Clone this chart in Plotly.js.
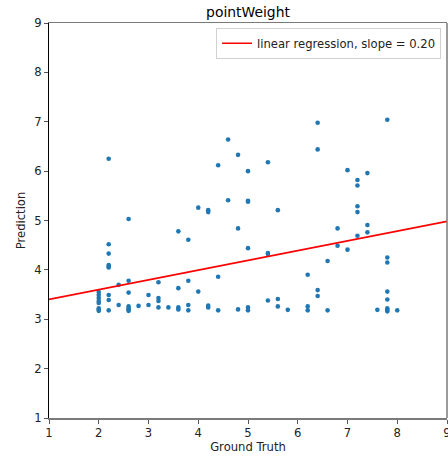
<!DOCTYPE html>
<html>
<head>
<meta charset="utf-8">
<script src="https://cdn.plot.ly/plotly-3.0.1.min.js"></script>
<style>html,body{margin:0;padding:0;background:#fff;}#chart{width:448px;height:457px;}</style>
</head>
<body>
<div id="chart"></div>
<script>
// Ground truth values (x) and predictions (y)
const groundTruth = [
  2,2,2,2,2,2,2,2,
  2.2,2.2,2.2,2.2,2.2,2.2,2.2,2.2,2.2,
  2.4,2.4,
  2.6,2.6,2.6,2.6,2.6,2.6,2.6,
  2.8,
  3.0,3.0,
  3.2,3.2,3.2,3.2,
  3.4,
  3.6,3.6,3.6,3.6,
  3.8,3.8,3.8,3.8,
  4.0,4.0,
  4.2,4.2,4.2,4.2,
  4.4,4.4,4.4,
  4.6,4.6,
  4.8,4.8,4.8,
  5.0,5.0,5.0,5.0,5.0,5.0,
  5.4,5.4,5.4,5.4,
  5.6,5.6,5.6,
  5.8,
  6.2,6.2,6.2,
  6.4,6.4,6.4,6.4,
  6.6,6.6,
  6.8,6.8,
  7.0,7.0,
  7.2,7.2,7.2,7.2,7.2,
  7.4,7.4,7.4,
  7.6,
  7.8,7.8,7.8,7.8,7.8,7.8,7.8,7.8,
  8.0
];
const prediction = [
  3.55,3.49,3.43,3.37,3.33,3.22,3.19,3.17,
  6.25,4.52,4.33,4.10,4.07,4.05,3.49,3.39,3.18,
  3.70,3.29,
  5.03,3.78,3.54,3.26,3.22,3.19,3.17,
  3.27,
  3.49,3.29,
  3.75,3.43,3.37,3.24,
  3.24,
  4.78,3.63,3.24,3.20,
  4.61,3.78,3.29,3.18,
  5.26,3.56,
  5.21,5.17,3.28,3.24,
  6.12,3.86,3.18,
  6.64,5.41,
  6.33,4.84,3.20,
  6.00,5.40,5.38,4.44,3.24,3.18,
  6.18,4.34,4.32,3.38,
  5.21,3.41,3.26,
  3.19,
  3.90,3.26,3.18,
  6.98,6.44,3.59,3.47,
  4.18,3.18,
  4.84,4.49,
  6.02,4.41,
  5.82,5.71,5.29,5.17,4.69,
  5.96,4.91,4.76,
  3.19,
  7.04,4.25,4.15,3.56,3.40,3.22,3.19,3.16,
  3.18
];
// Regression line parameters
const regSlope = 0.1975;
const regIntercept = 3.205;
const axisRange = [1, 9];
const tickValues = [1,2,3,4,5,6,7,8,9];
const titleText = "pointWeight";
const legendText = "linear regression, slope = 0.20";

const lineX = axisRange.slice();
const lineY = lineX.map(x => regIntercept + regSlope * x);

const font = "DejaVu Sans, sans-serif";
const fs = 11.6;

const traces = [
  {
    x: groundTruth, y: prediction, type: 'scatter', mode: 'markers',
    marker: {color: '#1f77b4', size: 4.6}, showlegend: false, hoverinfo: 'skip'
  },
  {
    x: lineX, y: lineY, type: 'scatter', mode: 'lines',
    line: {color: '#ff0000', width: 1.6}, name: legendText
  }
];

const layout = {
  width: 448, height: 457,
  margin: {l: 49, r: 1, t: 23, b: 39, pad: 0},
  paper_bgcolor: '#fff', plot_bgcolor: '#fff',
  font: {family: font, size: fs, color: '#000'},
  title: {text: titleText, font: {family: font, size: 13.9, color: '#000'}, xref: 'paper', x: 0.5, xanchor: 'center', y: 0.974, yanchor: 'middle'},
  xaxis: {
    range: axisRange, tickvals: tickValues, ticktext: tickValues.map(String),
    showgrid: false, zeroline: false, showline: true, linecolor: '#7a7a7a', linewidth: 1.5, mirror: true,
    ticks: 'outside', ticklen: 4, tickcolor: '#555', tickwidth: 1,
    ticklabeloverflow: 'allow',
    tickfont: {family: font, size: fs, color: '#222'},
    title: {text: 'Ground Truth', font: {family: font, size: fs, color: '#222'}, standoff: 3},
    automargin: false
  },
  yaxis: {
    range: axisRange, tickvals: tickValues, ticktext: tickValues.map(String),
    showgrid: false, zeroline: false, showline: true, linecolor: '#000', linewidth: 1, mirror: false,
    ticks: 'outside', ticklen: 4, tickcolor: '#555', tickwidth: 1,
    tickfont: {family: font, size: fs, color: '#222'},
    title: {text: 'Prediction', font: {family: font, size: fs, color: '#222'}, standoff: 6},
    automargin: false
  },
  shapes: [
    {type: 'line', xref: 'paper', yref: 'paper', x0: 1, x1: 1, y0: 0, y1: 1, line: {color: '#7a7a7a', width: 1.5}}
  ],
  legend: {
    x: 0.985, xanchor: 'right', y: 0.988, yanchor: 'top',
    bgcolor: 'rgba(255,255,255,0.9)', bordercolor: '#d0d0d0', borderwidth: 1,
    font: {family: font, size: fs, color: '#222'}
  }
};

Plotly.newPlot('chart', traces, layout, {displayModeBar: false, staticPlot: true});
</script>
</body>
</html>
